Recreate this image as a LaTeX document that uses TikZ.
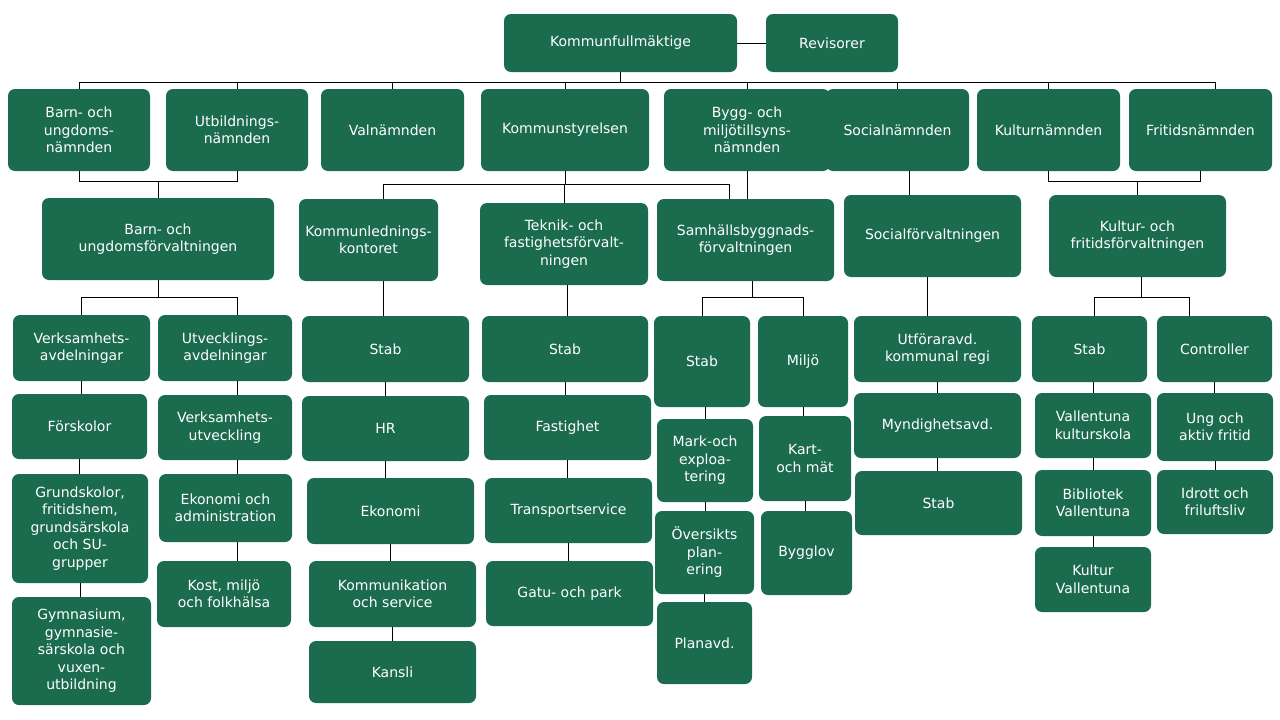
\documentclass[tikz,border=0pt]{standalone}
\usepackage{fontspec}
\setmainfont{DejaVu Sans}
\definecolor{vg}{HTML}{1B6B4E}
\tikzset{bx/.style={fill=vg,draw=none,rounded corners=7pt,text=white,align=center,inner sep=1pt,font=\fontsize{14}{17.5}\selectfont},
ln/.style={draw=black,line width=0.8pt}}
\newcommand\B[6]{\node[bx,minimum width={(#4-#2)*1pt},minimum height={(#5-#3)*1pt}] (#1) at ({(#2+#4)/2},{-(#3+#5)/2}) {#6};}
\newcommand\V[2]{\draw[ln] (#1.south) -- (#1.south |- #2.north);}
\begin{document}
\begin{tikzpicture}[x=1pt,y=1pt]
\path[use as bounding box,fill=white] (0,0) rectangle (1280,-720);
\B{kf}{504}{14}{737}{72}{Kommunfullmäktige}
\B{rev}{766}{14}{898}{72}{Revisorer}
\B{bun}{8}{89}{150}{171}{Barn- och\\ungdoms-\\nämnden}
\B{utb}{166}{89}{308}{171}{Utbildnings-\\nämnden}
\B{val}{321}{89}{464}{171}{Valnämnden}
\B{ks}{481}{89}{649}{171}{Kommunstyrelsen}
\B{bygg}{664}{89}{830}{171}{Bygg- och\\miljötillsyns-\\nämnden}
\B{soc}{826}{89}{969}{171}{Socialnämnden}
\B{kul}{977}{89}{1120}{171}{Kulturnämnden}
\B{fri}{1129}{89}{1272}{171}{Fritidsnämnden}
\B{buf}{42}{198}{274}{280}{Barn- och\\ungdomsförvaltningen}
\B{klk}{299}{199}{438}{281}{Kommunlednings-\\kontoret}
\B{tfv}{480}{203}{648}{285}{Teknik- och\\fastighetsförvalt-\\ningen}
\B{sbf}{657}{199}{834}{281}{Samhällsbyggnads-\\förvaltningen}
\B{socf}{844}{195}{1021}{277}{Socialförvaltningen}
\B{kff}{1049}{195}{1226}{277}{Kultur- och\\fritidsförvaltningen}
% buf
\B{va}{13}{315}{150}{381}{Verksamhets-\\avdelningar}
\B{ua}{158}{315}{292}{381}{Utvecklings-\\avdelningar}
\B{fsk}{12}{394}{147}{459}{Förskolor}
\B{gs}{12}{474}{148}{583}{Grundskolor,\\fritidshem,\\grundsärskola\\och SU-\\grupper}
\B{gy}{12}{597}{151}{705}{Gymnasium,\\gymnasie-\\särskola och\\vuxen-\\utbildning}
\B{vu}{158}{395}{292}{460}{Verksamhets-\\utveckling}
\B{ea}{159}{474}{292}{542}{Ekonomi och\\administration}
\B{kost}{157}{561}{291}{627}{Kost, miljö\\och folkhälsa}
% klk
\B{ks1}{302}{316}{469}{382}{Stab}
\B{ks2}{302}{396}{469}{461}{HR}
\B{ks3}{307}{478}{474}{544}{Ekonomi}
\B{ks4}{309}{561}{476}{627}{Kommunikation\\och service}
\B{ks5}{309}{641}{476}{703}{Kansli}
% tfv
\B{t1}{482}{316}{648}{382}{Stab}
\B{t2}{484}{395}{651}{460}{Fastighet}
\B{t3}{485}{478}{652}{543}{Transportservice}
\B{t4}{486}{561}{653}{626}{Gatu- och park}
% sbf
\B{s1}{654}{316}{750}{407}{Stab}
\B{s2}{758}{316}{848}{407}{Miljö}
\B{s3}{657}{419}{753}{502}{Mark-och\\exploa-\\tering}
\B{s4}{655}{511}{754}{594}{Översikts\\plan-\\ering}
\B{s5}{657}{602}{752}{684}{Planavd.}
\B{s6}{759}{416}{851}{501}{Kart-\\och mät}
\B{s7}{761}{511}{852}{595}{Bygglov}
% socf
\B{o1}{854}{316}{1021}{382}{Utföraravd.\\kommunal regi}
\B{o2}{854}{393}{1021}{458}{Myndighetsavd.}
\B{o3}{855}{471}{1022}{535}{Stab}
% kff
\B{k1}{1032}{316}{1147}{382}{Stab}
\B{k2}{1157}{316}{1272}{382}{Controller}
\B{k3}{1035}{393}{1151}{458}{Vallentuna\\kulturskola}
\B{k4}{1035}{470}{1151}{536}{Bibliotek\\Vallentuna}
\B{k5}{1035}{547}{1151}{612}{Kultur\\Vallentuna}
\B{k6}{1157}{393}{1273}{461}{Ung och\\aktiv fritid}
\B{k7}{1157}{470}{1273}{534}{Idrott och\\friluftsliv}
% connectors
\draw[ln] (kf) -- (rev);
\draw[ln] (kf.south) -- (kf.south |- 0,-82);
\draw[ln] (bun.north |- 0,-82) -- ([xshift=15]fri.north |- 0,-82);
\foreach \n in {bun,utb,val,ks,bygg,soc,kul} \draw[ln] (\n.north) -- (\n.north |- 0,-82);
\draw[ln] ([xshift=15]fri.north) -- ([xshift=15]fri.north |- 0,-82);
\draw[ln] (bun.south) -- (bun.south |- 0,-181) -| (utb.south);
\draw[ln] (buf.north) -- (buf.north |- 0,-181);
\draw[ln] (ks.south) -- (ks.south |- 0,-184);
\draw[ln] ([xshift=15]klk.north) |- ([xshift=-16]sbf.north |- 0,-184) -- ([xshift=-16]sbf.north);
\draw[ln] (tfv.north) -- (tfv.north |- 0,-184);
\draw[ln] (bygg.south) -- (bygg.south |- sbf.north);
\draw[ln] ([xshift=-23]socf.north) -- ([xshift=-23]socf.north |- soc.south);
\draw[ln] ([xshift=-5]socf.south) -- ([xshift=-5]socf.south |- o1.north);
\draw[ln] (kul.south) -- (kul.south |- 0,-181) -| (fri.south);
\draw[ln] (kff.north) -- (kff.north |- 0,-181);
% buf tree
\draw[ln] (buf.south) -- (buf.south |- 0,-297);
\draw[ln] (va.north) |- ([xshift=12]ua.north |- 0,-297) -- ([xshift=12]ua.north);
\V{va}{fsk}\V{fsk}{gs}\V{gs}{gy}
\draw[ln] ([xshift=12]ua.south) -- ([xshift=12]ua.south |- vu.north);
\draw[ln] ([xshift=12]vu.south) -- ([xshift=12]vu.south |- ea.north);
\draw[ln] ([xshift=12]ea.south) -- ([xshift=12]ea.south |- kost.north);
% klk
\draw[ln] ([xshift=15]klk.south) -- ([xshift=15]klk.south |- ks1.north);
\V{ks1}{ks2}\V{ks2}{ks3}\V{ks3}{ks4}\V{ks4}{ks5}
% tfv
\draw[ln] ([xshift=3]tfv.south) -- ([xshift=3]tfv.south |- t1.north);
\V{t1}{t2}\V{t2}{t3}\V{t3}{t4}
% sbf
\draw[ln] ([xshift=7]sbf.south) -- ([xshift=7]sbf.south |- 0,-297);
\draw[ln] (s1.north) |- (s2.north |- 0,-297) -- (s2.north);
\draw[ln] ([xshift=3]s1.south) -- ([xshift=3]s1.south |- s3.north);
\V{s3}{s4}\V{s4}{s5}
\V{s2}{s6}\V{s6}{s7}
% soc
\V{o1}{o2}\V{o2}{o3}
% kff
\draw[ln] ([xshift=4]kff.south) -- ([xshift=4]kff.south |- 0,-297);
\draw[ln] ([xshift=5]k1.north) |- ([xshift=-25]k2.north |- 0,-297) -- ([xshift=-25]k2.north);
\draw[ln] ([xshift=4]k1.south) -- ([xshift=4]k1.south |- k3.north);
\V{k3}{k4}\V{k4}{k5}
\V{k2}{k6}\V{k6}{k7}
\end{tikzpicture}
\end{document}
